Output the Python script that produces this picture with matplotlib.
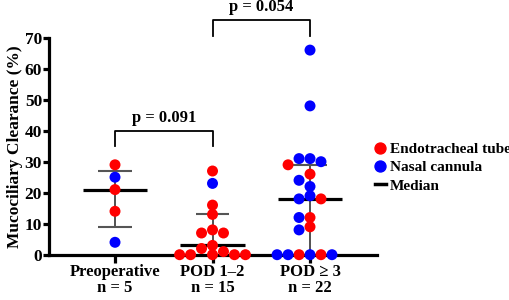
import numpy as np
import matplotlib
matplotlib.use("Agg")
import matplotlib.pyplot as plt
from matplotlib.lines import Line2D

plt.rcParams["font.family"] = ["Liberation Serif", "DejaVu Serif"]
plt.rcParams["font.weight"] = "bold"

# ===========================
# Data
# ===========================
groups = ["Preoperative", "POD 1\u20132", "POD \u2265 3"]
n_labels = ["n = 5", "n = 15", "n = 22"]

preop_vals = [29, 25, 21, 14, 4]
preop_type = ["E", "N", "E", "E", "N"]

pod12_vals = [27, 23, 16, 13, 8, 7, 7, 3, 2, 1, 0, 0, 0, 0, 0]
pod12_type = ["E", "N", "E", "E", "E", "E", "E", "E", "E", "E", "E", "E", "E", "E", "E"]

pod3_vals = [66, 48, 31, 31, 30, 29, 26, 24, 22, 19, 18, 18, 12, 12, 9, 8,
             0, 0, 0, 0, 0, 0]
pod3_type = ["N", "N", "N", "N", "N", "E", "E", "N", "N", "N", "N", "E", "E", "N", "E", "N",
             "N", "E", "E", "N", "N", "N"]

medians = [21, 3, 18]
q1 = [9, 0, 0]
q3 = [27, 13, 29]

p_values = ["p = 0.091", "p = 0.054"]
comparisons = [(0, 1), (1, 2)]

COLORS = {"E": "#ff0000", "N": "#0000ff"}
MS = 7.9  # marker diameter in points


def swarm_offsets(y_px, d, thresh):
    """Simple beeswarm: place points top-down on a half-diameter grid."""
    order = sorted(range(len(y_px)), key=lambda i: -y_px[i])
    placed = []
    offs = [0.0] * len(y_px)
    for i in order:
        k = 0
        found = None
        while found is None:
            for s in ([0] if k == 0 else [-k, k]):
                x = s * d / 2
                if all(np.hypot(x - px, y_px[i] - py) >= thresh for px, py in placed):
                    found = x
                    break
            k += 1
        offs[i] = found
        placed.append((found, y_px[i]))
    return offs


fig = plt.figure(figsize=(5.1, 3.0), dpi=100)
ax = fig.add_axes([49 / 510, 1 - 254.7 / 300, (377 - 49) / 510, (254.7 - 37.7) / 300])
ax.set_xlim(-0.677, 2.687)
ax.set_ylim(0, 70)

for side in ["top", "right"]:
    ax.spines[side].set_visible(False)
for side in ["left", "bottom"]:
    ax.spines[side].set_linewidth(2.3)

ax.set_yticks(np.arange(0, 71, 10))
ax.tick_params(axis="y", direction="out", length=4, width=2.3, labelsize=12.5, pad=1)
ax.set_xticks(range(len(groups)))
ax.set_xticklabels([f"{g}\n{n}" for g, n in zip(groups, n_labels)], linespacing=1.0)
ax.tick_params(axis="x", direction="out", length=6, width=2.3, labelsize=12, pad=1)
ax.set_ylabel("Mucociliary Clearance (%)", fontsize=12.5, fontweight="bold", labelpad=1.5)

# pixel geometry for the swarm
fig.canvas.draw()
x_unit_px = ax.transData.transform((1, 0))[0] - ax.transData.transform((0, 0))[0]
d_px = MS * fig.dpi / 72

all_vals = [preop_vals, pod12_vals, pod3_vals]
all_types = [preop_type, pod12_type, pod3_type]

for gi, (vals, types) in enumerate(zip(all_vals, all_types)):
    y_px = [ax.transData.transform((0, v))[1] for v in vals]
    offs = swarm_offsets(y_px, d_px, 0.8 * d_px)
    xs = [gi + o / x_unit_px for o in offs]
    cols = [COLORS[t] for t in types]
    ax.scatter(xs, vals, s=MS ** 2, c=cols, edgecolors="none", zorder=5, clip_on=False)

    # median and IQR
    ax.hlines(medians[gi], gi - 0.33, gi + 0.33, color="black", lw=2.3, zorder=3)
    ax.vlines(gi, q1[gi], q3[gi], color="#333333", lw=1.2, zorder=2)
    for q in (q1[gi], q3[gi]):
        if q > 0:
            ax.hlines(q, gi - 0.17, gi + 0.17, color="#555555", lw=1.5, zorder=2)

# significance brackets
bracket_tops = [40, 75.7]
leg_drop = 5
for (a, b), top, p in zip(comparisons, bracket_tops, p_values):
    ax.plot([a, a, b, b], [top - leg_drop, top, top, top - leg_drop],
            color="black", lw=1.3, clip_on=False)
    ax.text((a + b) / 2, top + 1.5, p, ha="center", va="bottom",
            fontsize=12, fontweight="bold")

handles = [
    Line2D([], [], marker="o", color=COLORS["E"], ls="none", ms=MS),
    Line2D([], [], marker="o", color=COLORS["N"], ls="none", ms=MS),
    Line2D([], [], color="black", lw=2.5),
]
fig.legend(handles, ["Endotracheal tube", "Nasal cannula", "Median"],
           loc="center left", bbox_to_anchor=(375 / 510, 1 - 167.5 / 300),
           frameon=False, handlelength=0.7, handletextpad=0.3,
           labelspacing=0.3, borderpad=0, borderaxespad=0,
           prop={"weight": "bold", "size": 11})

fig.savefig("out.png", dpi=100)
